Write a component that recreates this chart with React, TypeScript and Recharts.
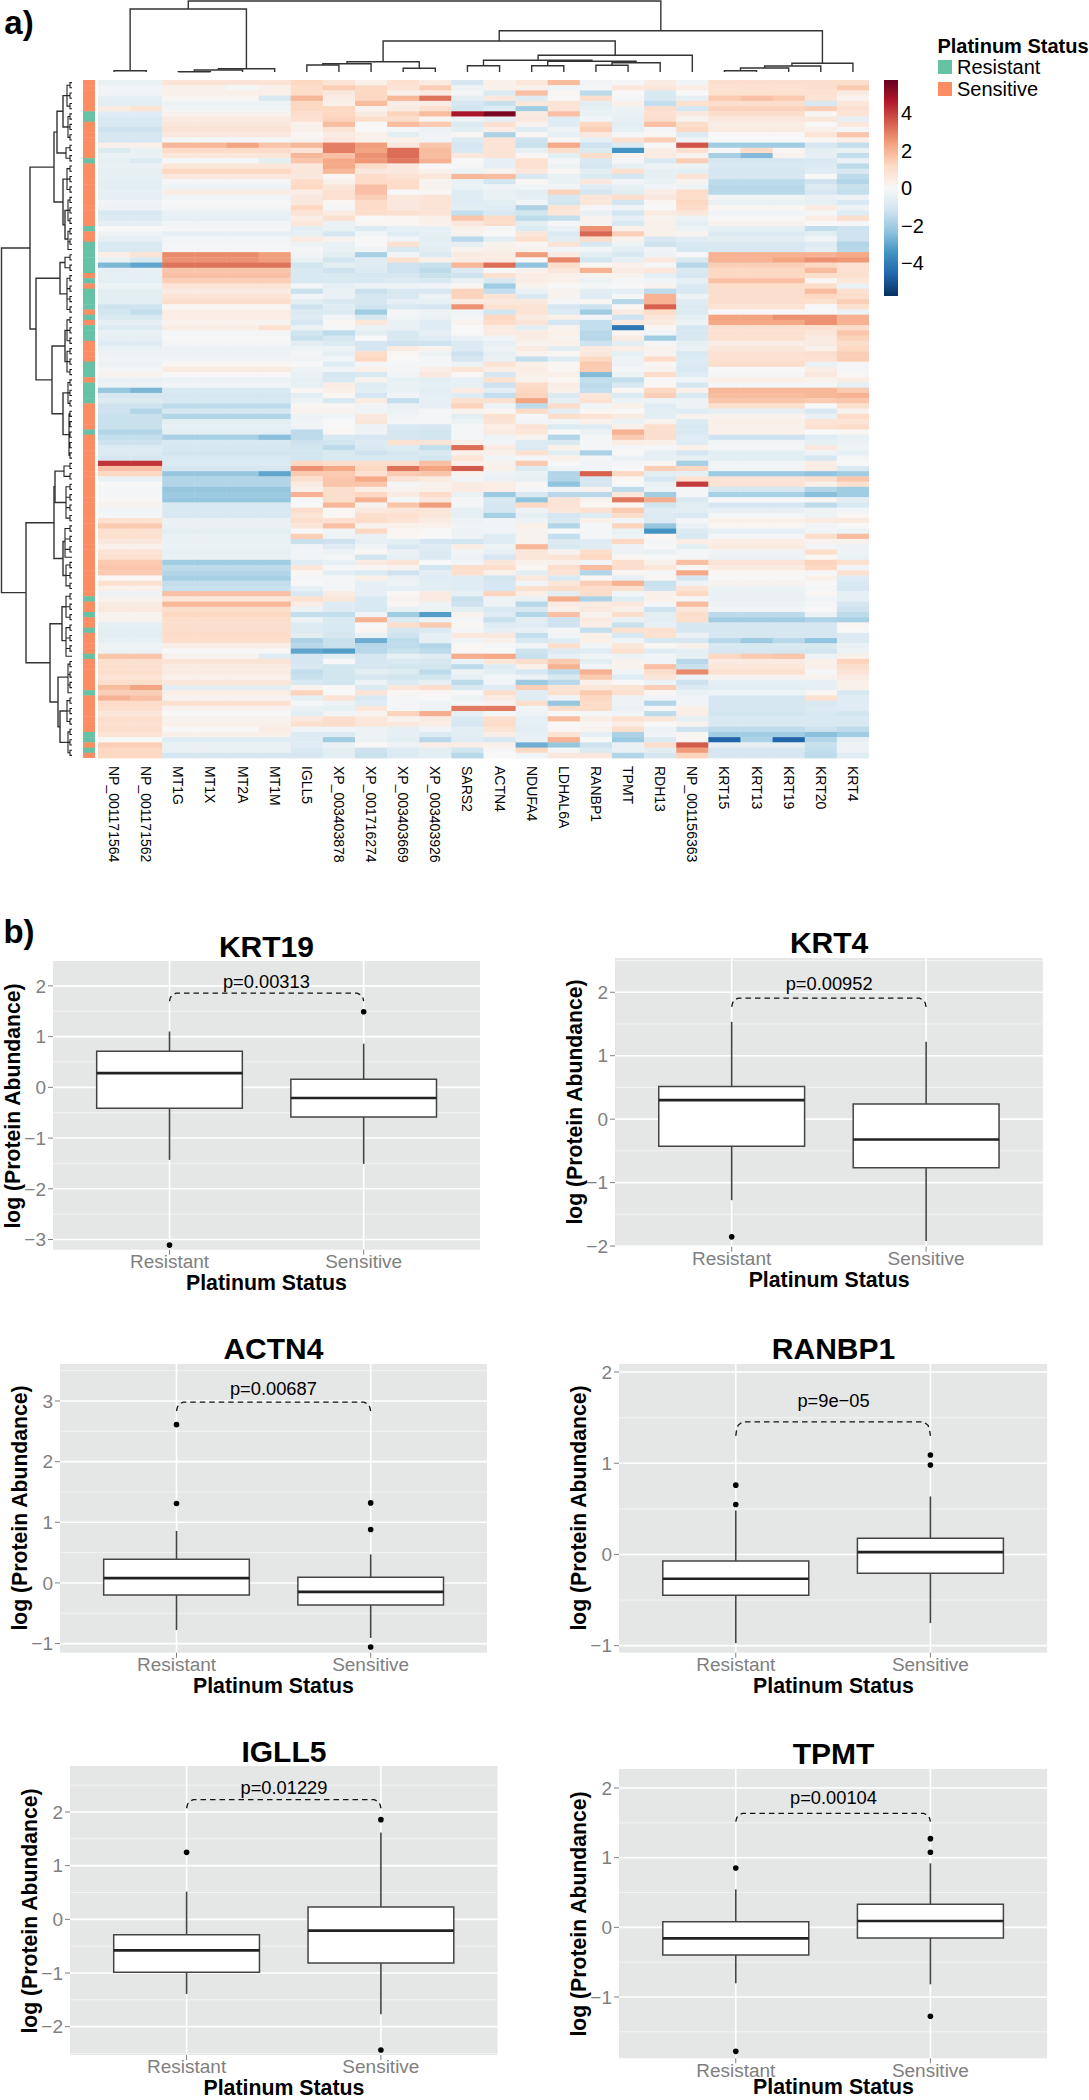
import {
  CartesianGrid,
  ReferenceArea,
  ReferenceLine,
  Scatter,
  ScatterChart,
  XAxis,
  YAxis,
} from "recharts";

const FONT = '"Liberation Sans", Arial, sans-serif';

const geneLabels = [
  "NP_001171564", "NP_001171562", "MT1G", "MT1X", "MT2A", "MT1M", "IGLL5", "XP_003403878",
  "XP_001716274", "XP_003403669", "XP_003403926", "SARS2", "ACTN4", "NDUFA4", "LDHAL6A", "RANBP1",
  "TPMT", "RDH13", "NP_001156363", "KRT15", "KRT13", "KRT19", "KRT20", "KRT4",
];

// rows that carry the green "Resistant" annotation, everything else is Sensitive
const resistantRows = [6, 7, 15, 28, 31, 32, 33, 34, 35, 36, 38, 40, 41, 42, 43, 45, 47, 48, 49, 54, 55, 56, 58, 59, 60, 61, 67, 99, 102, 105, 110, 117, 125, 126, 128];

// heatmap values, read row by row (10 per line, 130 rows)
const npPair = [
  -.4, -.2, -.2, -.5, -.6, .5, -.7, -.9, -.9, -1.2,
  -1, -1, .3, -.8, -.4, -.5, -.4, -.5, -.5, -.6,
  -.6, -.5, -.5, -.2, -.3, -.9, -.8, -.5, 0, -.3,
  -.5, -.9, -.9, .4, -.4, -2.6, -.5, -.5, -.6, -.3,
  -.6, -.6, -.6, -1.2, -1.1, -.9, -.5, -.8, -.4, -.5,
  -.7, -.4, -.3, -.2, -.3, -.1, .2, -.4, -.3, -2.2,
  -1, -.8, -1.2, -1.2, -1.3, -1.3, -1.3, -1.7, -1.4, -1.2,
  -.8, -.8, -1, 4.1, 1.7, 1.2, -.4, 0, -.1, -.1,
  .1, .2, -.2, -.1, .9, 1.5, .9, .9, .6, .3,
  .8, .9, 1.5, 1.6, 1.5, .1, .9, .3, -.3, .2,
  .5, .6, .2, .2, -.5, -.6, -.6, -.5, -.3, -.3,
  1.6, .9, 1, 1, .8, 1, 1.8, 1.4, 1.7, 1.1,
  1, .7, 1, .9, 1, .8, 0, 1.4, 1.2, 1.2,
];
const mtBlock = [
  .8, .3, .3, .1, -.3, -.2, .2, .5, .7, .8,
  .6, -.1, 1.9, 1.1, .7, -.1, .7, 1.2, .6, -.1,
  -.3, .4, -.2, 0, -.1, -.4, -.5, -.2, -.1, -.5,
  -.2, -.1, -.1, 2.7, 2.6, 3.1, 1.6, 1.7, 1.4, .8,
  .5, .8, 1, .1, .4, .4, .2, .4, -.1, 0,
  -.1, -.3, -.3, -.2, .1, .5, 0, -.3, -.2, -.9,
  -1, -1, -1.5, -1, -1.7, -.6, -.5, -.6, -1.9, -.9,
  -1, -1.1, -.9, -.8, -1, -2.2, -1.7, -1.7, -2.2, -2.1,
  -2.2, -.9, -.9, -.9, -.4, -.4, -.6, -.4, -.4, -.4,
  -.5, -.4, -2, -1.5, -1.7, -1.9, -1.4, -1.3, 1.7, .7,
  1.9, 1, 1.2, 1, 1, 1, 1.1, 1, .4, 0,
  .2, .8, .5, .5, .3, .7, -.6, .4, .2, .9,
  .2, 0, .2, .3, 0, .3, -.7, -.4, -.4, -1,
];
const igll5 = [
  1.2, 1.1, 1.1, 1.9, 1.2, 1.2, 1, .9, .3, .3,
  .1, .2, 1.9, .8, 1.9, 1.6, .6, .7, .6, 1.1,
  1.2, .4, .6, .6, 1.2, .8, .4, .7, -.6, -.5,
  .5, -.3, -.1, -.2, -.4, -1.1, -.9, -.9, -.9, -.1,
  -1.3, -.2, -.6, -1.2, -.8, -.7, -1, -.4, -1.1, -1.3,
  -.6, -.3, -.1, -.2, 0, -.3, -.4, -.5, -.5, .1,
  -.6, -.3, .1, .2, -.3, -.2, -.2, -1.5, -1.5, -1.2,
  -1.1, -1.1, -1.1, 1.2, 2.6, 1.5, 1, .5, .3, 2,
  0, 0, 1, .8, 1, .7, 0, 1.4, -1.3, -.2,
  -.2, -.2, -.7, .7, .1, -.1, 0, -.5, -.9, .9,
  .4, -.3, -1.4, -.3, -.8, -.8, -.6, -1.8, -1.6, -3,
  -1, -1, -.9, -1.4, -1.3, -.9, .2, 1.3, -.5, -.1,
  -.4, -.6, .6, .9, -.2, -.8, -.7, -.7, -.9, -1,
];
const xp878 = [
  .8, 1.4, .6, .4, .3, 1.2, 1.2, 1.3, 1.8, .8,
  .5, .6, 2.9, 2.9, 1.7, 2.2, 2.2, 1.9, .1, .3,
  .7, .9, .9, .1, -.1, .5, .9, -.4, -.4, -1,
  .2, -.4, -.4, -.6, -1.1, -.6, -1.2, -.9, -.9, -.5,
  -.4, -.4, -.9, -.7, -.8, -.2, .1, -.1, -1.5, -1,
  -.8, -.3, -.5, -.2, -.7, -.2, -1, -.9, .4, .3,
  .1, -.9, .1, .2, -.2, 0, 0, .1, -.9, -1.1,
  -1.5, -.9, -.9, 1, 2.2, 1.5, 1.6, 1.6, 1, 1,
  1, 1.9, .1, .1, .9, 1.7, -.2, -.3, -1.2, -.7,
  -.3, -.1, -.5, -.1, -.6, -.1, -.1, -.1, .5, .7,
  -.7, -.7, -1.4, -.9, -.9, -.9, -1, -1.3, -1.3, -3.2,
  -.6, 0, -1.1, -1.1, -1.1, -1.1, 0, 0, .8, -.3,
  -.5, -.2, 1, 1, -.2, -.8, -2, -.4, -.6, -.6,
];
const xp274 = [
  .3, 1.2, 1.2, 1.2, 1.8, .2, .5, 1, 0, 0,
  .3, .3, 2.4, 2.3, 2.6, 2.5, 1.1, .6, 1.1, 1.1,
  1.7, 1.7, 1.4, 1.1, 1.1, 1, 0, .1, -.8, -.2,
  0, 0, -.2, -1.9, -.7, -.7, -.8, -1, -.9, -.3,
  -1.3, -1, -1, -1.2, -2, -.9, .7, -.4, -.6, 0,
  -1, -1, 1.1, 1.2, -.1, .3, -.9, .2, -.7, -.6,
  -1, .5, -.2, -.2, .6, .7, -.3, -.3, -1, -.8,
  -.9, -1.2, -.9, 1, 1.2, .9, 2.2, 1.6, .4, 1.2,
  2, .2, .6, 1, 1.1, .2, 1.2, -.4, -.5, -.2,
  .1, -1.1, .5, .1, -.8, .3, -.5, -.5, -.5, -.9,
  -.9, -.9, -.2, 2, 0, .1, -.4, -2.8, -1.6, -1.6,
  -1, -1, -1, -.6, -1, -.3, -.8, .8, -.9, -.7,
  .7, .2, .7, .7, -.3, -.3, -.3, 0, -1.2, -1.3,
];
const xp669 = [
  .9, .8, .3, 1.9, .4, .5, 1.3, 1, 1.8, -.1,
  -.6, .3, .6, 3.2, 3.2, 3, .6, .6, .8, 1.1,
  1.1, 0, .6, .6, .6, .9, .1, .1, -.5, -.7,
  -.2, .9, -.9, -.2, .9, -1.2, -1.2, -1, -.8, -.3,
  -.9, -.9, -.5, -.9, -.1, -.2, -.4, -.4, -.9, -.9,
  -1.2, .5, .1, 0, -.1, -.1, -.2, -.5, -.4, -.4,
  -.2, -1.4, -.4, -.3, -.2, -.1, -.9, -1, -1, .9,
  -.8, -1, -.9, 1, 3.1, 1.5, .8, -.1, .2, .5,
  -.1, 1.6, .7, .9, .8, .3, .1, .1, -.6, -.9,
  -.4, -.5, .8, .2, -1.2, -.4, -.3, -.5, .1, .2,
  .1, -.4, -2, -.8, 1, -1, -1.2, -1.5, -1.5, -1.3,
  -.5, -.9, -1.1, -.8, -1.1, -.8, .6, .1, -.1, -.1,
  -.1, 1.3, .2, .6, -.5, -.5, -.6, -.3, -.8, -.8,
];
const xp926 = [
  .5, 1.4, .5, 3.1, .4, .9, 1.8, .1, 1.5, -.3,
  -.2, -.2, 1.6, 1.8, 1.8, 2, 0, .3, .7, .2,
  .2, .1, .8, .8, .8, .8, .3, .3, -.5, -.5,
  -.6, -.5, -.6, -.8, .3, -1.3, -1.5, -1.3, -.9, -.2,
  -.9, -.3, -.5, -1, -.3, -.4, -.7, -.7, -.5, -.7,
  -1.2, .2, -.3, -.1, -.1, .4, .6, -.6, -.5, -.6,
  -.5, -.5, -.5, -.1, -.1, -.1, -1, -1.1, -1.1, .8,
  -1.4, -.9, -1.1, 1.7, 2.3, 1.6, .5, .2, .3, 1.1,
  .6, 2.4, .7, .7, .5, .3, 0, 0, -1, -.7,
  -.8, -.8, 0, -1.1, -.6, -.7, -.6, -.6, .5, .5,
  -.3, -.3, -3.2, -.3, 1.5, -.8, -.5, -.5, -1.7, -1.5,
  -.7, -1, -1.1, -1.5, -1.1, -.5, 1, .1, 0, -.3,
  -.3, 2.1, .5, .4, -.2, -.8, -1.6, .4, -.6, -.6,
];
const sars2 = [
  -1, -.3, -.1, -.6, -1, -1.1, 4.7, -.3, -.8, -.6,
  .1, -.8, -1, -.9, .6, 0, -.1, -.3, 1.9, -.4,
  -.4, -.7, -.7, -.7, -.6, -1.4, 1.6, .6, .3, .2,
  -1.6, -.5, .2, .5, .4, 1.9, -.8, -1.2, -.4, .1,
  1.3, 1.3, .5, 2.6, -.2, -.1, .2, 0, 0, -.4,
  -.8, -.8, -1.2, -1, -.3, .8, .1, -.5, -.5, .5,
  -.7, .9, 1.3, .2, -.6, -.3, -.1, -.1, -.1, .3,
  3.2, .3, .8, .3, 3.5, .2, -.2, .5, .5, -.4,
  -.1, -.1, -.5, -.5, -.3, -.2, -.3, -.3, -1.1, .4,
  -.2, -.3, -.2, 1, 1, -.7, -.7, -.7, -.5, -1.3,
  -1.2, -.6, .2, -.1, .1, -.1, .6, -.2, .1, .1,
  2.1, -.4, -1.5, -.3, -.5, -1.5, -.9, 0, -.3, -.1,
  3, -.5, -.9, -1, -.6, -.6, -.7, .4, -1.1, -1.6,
];
const actn4 = [
  .3, .3, -.8, .6, -1.3, -.8, 5.4, -.5, .9, .4,
  -1.8, .8, .8, .8, .8, -.5, -.5, .2, 1.8, -1.1,
  -.2, -.4, -.4, -.6, -.7, -.9, 1.1, 1, -.1, 0,
  -.6, .2, .3, .4, .5, 3.2, 0, .9, -.9, -2,
  -1.4, .8, .6, .9, -1.1, 1.2, 1.1, .5, .5, -.2,
  -.5, -.3, -.5, -.4, .8, .4, -1, .9, -1.2, -.6,
  -1.4, .9, -.3, .1, .9, .8, .4, .5, -.3, -.2,
  .5, .3, -.2, .2, .3, -.3, -.4, .4, .4, -2.1,
  -.9, -1, -1, -1.9, -.2, -.2, -.2, -.7, -.7, -.3,
  -.5, -1, .7, 1, .3, -1.1, -1, -1, 1.3, -.3,
  -.3, -.9, -.7, -1.3, -.7, -.5, .6, .3, -.1, 0,
  2.2, .7, -.7, -.6, -.2, -.2, -.7, 1, .5, .2,
  3, -.1, 1, 1.1, .8, .4, -1, .3, -.1, 0,
];
const ndufa4 = [
  .7, .3, 1.7, -.7, .6, -2, .5, .6, .2, -.7,
  .1, -1.2, -1.3, -.5, .1, .9, .9, .6, -.9, .1,
  -.2, -.6, -.5, -.2, -1.8, -1.1, -1.5, -.6, -.8, .7,
  1, .1, .2, 2.4, 0, -2.3, .2, .4, .4, .2,
  -.4, -.9, .6, .8, .8, .5, .8, -.6, .5, .4,
  .2, .5, .2, -1.4, .3, .4, .3, .3, 1.1, 1.2,
  1.3, 2.3, -1.5, 1.1, -.1, -.2, .8, .7, .2, -.8,
  -.8, .9, -.1, 1.5, -.8, -.4, -.5, .1, -.1, -.9,
  -2.3, 1.2, -.3, -.5, -.3, .3, .2, .2, .2, 1.9,
  .7, .7, .3, .1, -.6, .6, -.2, .9, .4, -.4,
  -1.6, -.9, -1.7, -.6, -.7, -.4, -1.4, -.9, -.2, -1.2,
  -1.3, 1, .3, -1, -.3, -2.1, 1.4, -.7, -.7, 1,
  -.2, -.3, -.5, -.5, -.6, -.5, -.4, -2.8, 1.2, -.2,
];
const ldhal6a = [
  1.8, -.2, .1, 0, .8, .8, 1.7, -.7, -.7, -.3,
  -.5, .1, 2.2, 1, -.6, -.1, -.3, .1, -.4, -.4,
  -.2, 1.3, -1, -1.1, .8, .7, -1.4, -.1, -.4, -.8,
  -.6, .8, -.2, .5, 2.8, 1, .7, .3, .3, 0,
  .2, .2, -.1, -1, -.8, .3, -1, .2, .3, .2,
  .3, -.6, .1, -.7, .1, .1, .3, .1, .4, .3,
  -.8, -.5, 1.1, -.6, 1, -.2, -.8, 0, -1.7, -.9,
  .3, -.6, .3, 0, -.3, -1.7, -1.7, -2.3, -.2, -1.6,
  .8, .8, .7, -1, -.9, -1.7, 0, -1.4, -.8, -.9,
  .2, .8, .3, 1, .8, -.9, .7, 1, -.6, 2.1,
  .5, .3, 1.7, -1.2, -1.2, -.1, -.2, -.7, 1, -.8,
  -.5, 1.5, 2, -1.5, -.9, -1.6, .8, .9, -.2, -2.2,
  1, 0, 1.8, 0, .1, .8, 2, -2.2, -.1, .6,
];
const ranbp1 = [
  -.2, -.1, -1.5, 1, -.6, -.5, -.4, -.2, 1.2, 1.4,
  .6, -.5, -1.2, -.8, 1.1, -.9, -1, -.6, -.8, .6,
  -.7, -1, .7, .7, -.1, -.4, .2, .2, 2.6, 3.3,
  1, -.9, -.2, -.6, -1.1, .1, 2, .2, -.3, -.1,
  -.6, -.7, .1, -1.2, -2, -.2, -1.4, -1.4, -1.6, -1.6,
  -1.2, .5, .6, 1.2, 1.5, 1.5, -2.5, -1.4, -1.5, -1.4,
  .7, .9, -.2, .1, .8, .3, -.7, -.4, -.1, -.1,
  -.1, -1.8, -.1, -.2, -.2, 3.4, -1, -1, .2, -1.6,
  .2, .1, .9, -.7, .3, -.1, -.1, -.1, -.7, -.7,
  1, 1.2, -.2, 1.8, -1.7, .1, 1.4, 1.1, 1.1, -1.8,
  .5, .6, .2, .5, .4, -1.4, .3, .3, -.2, -.7,
  -.2, -.6, -.2, 2, 1.5, .3, .7, 1.5, 1.2, 1.1,
  1.1, -.1, .4, .1, .2, -.5, 0, -1.2, -.8, .6,
];
const tpmt = [
  -.1, .6, 0, -.1, .3, -.3, -.4, -.5, -.6, -.5,
  -.1, .9, -.8, -3.4, .2, -.1, -.5, .9, -1, -.2,
  -.5, -.6, 1, -1.1, -.3, -1.1, -.5, -.9, .3, 1.4,
  .2, -.3, -.6, -.9, -.5, .3, .5, .2, -.1, 0,
  -.5, -.1, -1.6, .1, .5, -1.2, .5, -4.1, .1, .5,
  -.6, .4, -.5, -.3, -.3, -.1, -.3, -1.4, -.9, .1,
  -.8, -.3, .3, 0, .5, -.4, .3, 2, 1.5, .4,
  -.1, 0, -.4, -.1, 0, 1.2, .1, 0, -1.5, .7,
  3, .1, 1.5, 1, -.2, 1.3, -.4, -.3, 1.2, -.3,
  -.3, .1, 1, 1, .1, -.5, 2, .9, -.2, -.7,
  .6, .3, 1, -.4, -1.3, .9, -.9, -.2, .7, .9,
  -.3, .2, .2, -.2, -.7, 0, .8, .9, -.3, -.3,
  -.4, -.2, .9, .4, 1, -1.8, -2.1, -.4, -.4, -1.7,
];
const rdh13 = [
  .5, .7, -.9, -.9, -1.4, 1, .9, 1, 1.7, -.1,
  .1, 1.4, 0, .4, .5, -.9, -.3, -.5, -.5, -.4,
  -.2, .4, .6, .1, 0, .5, .2, .3, .3, .3,
  -.9, -1.2, -.2, -.3, .6, -.1, .7, -.5, -.2, .2,
  -1.5, 2, 2, 3.4, 1.1, .7, .5, .1, -.2, -2,
  -.1, .2, .2, 1.1, .1, .2, 1.1, 0, .1, 1.2,
  1.4, -.3, -.7, -.6, -.6, .2, 1, 1, 1, .3,
  -.1, -.5, -.5, .1, 1.4, -.6, -1, -.4, -.3, -2,
  2.1, -1.1, -.7, -.8, -.8, -2.2, -3.4, .1, -.1, 0,
  -.4, 0, .3, .7, -.1, .1, -1.3, -1.2, .3, .3,
  -.1, -1.2, -.6, -.6, -.5, .9, .9, -.9, .1, -.7,
  -.2, -.2, 1.7, 1, .7, -.3, 1.4, .1, -.2, -1.7,
  -.1, -1.5, .7, 0, -.3, -.2, -.8, 1, -.6, -1,
];
const np363 = [
  -.2, .4, 0, -.5, .9, -1, .6, .2, 1, 1.2,
  -.8, -.2, 3.6, .9, .2, 1.4, -.3, -.6, .8, .2,
  -.3, 1.1, 1, 1.2, 1.1, .7, -.3, -.5, -.3, .2,
  -.7, -.9, -1, 0, -.9, -1.6, -.9, -1, -.5, -.8,
  -.9, -.3, -.7, -.8, -.8, -.5, -.3, -1, -1, -.9,
  -.5, -.4, -.9, -.8, -.8, -.9, -.7, -.2, -1, .3,
  -.9, -.3, -.3, -.7, .2, -.8, -.9, -.9, -.7, -.7,
  .3, -1, -.5, -1.9, 1.2, -.5, .9, 4, -.1, -.1,
  -.9, -.6, -.6, -.9, -.1, -.4, -.8, -.9, .4, -.6,
  -.1, -.1, 1.7, .1, 2.2, -1, -.3, .8, 1.2, -.1,
  1.8, .7, 1, 1, -1, -1, -.4, -1, .3, -.5,
  -.5, -1.6, -1.3, 2.7, -.3, -1.2, -.8, -.4, -.2, -.2,
  .3, .4, -.5, .2, -1.2, .1, .1, 3.5, 2.4, 1.3,
];
const krtBlock = [
  1, .9, .9, 1.5, 1, 1.3, 1, .6, .4, .5,
  0, 0, -2, .1, -2, -1, -.9, -1, -1, -1.5,
  -1.6, -1.6, -.2, -.4, .1, -.2, 0, .2, -.5, -.8,
  -.6, -.9, -.9, 2, 2, 1.4, 1.2, 1.2, 1.7, 1,
  1, 1, 1, .8, 0, 2.3, 2.2, .9, .9, .9,
  .4, .7, .9, .9, 1, 0, -.1, .3, -.1, 1.9,
  1.8, 1.6, .9, -.5, .2, .3, .3, .3, -1.2, -.2,
  -.1, -.6, -.6, -.2, -.2, -2.1, .8, .8, -1, -1.9,
  0, -1, -.5, -.1, .3, .1, -.5, -.1, .4, .5,
  -.2, -.3, .8, .5, .1, 0, .2, -.3, -.4, -.4,
  -.3, -.2, -1.5, -2, -1, -1, -1, -1.6, -.9, -1,
  1.2, .5, .7, .9, .2, -.5, -.6, -.3, -1, -1,
  -1, -1.1, -.9, -.9, -1.5, -2, -1.5, -.5, -1, -1,
];
const krt20 = [
  1, 1, .9, .8, -.9, 1.4, .1, .7, 0, .3,
  .8, .1, -1, -.6, -.5, -.9, -.8, -.7, 0, -1.2,
  -.8, -1, -.4, -.5, .5, -.1, .4, 0, -1.4, -.6,
  -.2, -.7, -.6, 2, 2.6, 1.2, 1.8, 1, .1, 1,
  1.8, 1.2, .9, 0, 0, 2.6, 2.6, .9, .7, .5,
  .5, .3, 1, .9, -.4, .4, .6, .2, -.1, 1.9,
  1.9, 1.5, 0, -.9, -.4, .8, .9, 0, -.7, -.5,
  .6, -.3, -1, .4, .4, -2.3, 1, .3, -1.7, -2.4,
  .1, -1.5, -.3, -.3, .5, -.2, -.2, 1, .2, -.2,
  1, .1, 1.3, 1.2, -.1, .3, 0, -.1, .1, -.2,
  -.1, 0, -.3, -1.8, -1, -1, -1, -2.3, -.9, -1.1,
  -.3, .3, .3, -.1, .2, -.5, -.5, .1, .9, -.9,
  -.8, -.9, -.9, -.9, -1.2, -2.4, -1.7, -1.3, -1.4, -1.5,
];
const krt4 = [
  1, 1.5, .5, .2, .7, .9, .8, -.5, .6, -.1,
  1.6, .3, -1.4, -.4, -1.4, -.4, -1.5, -.9, -1.5, -1.7,
  -1.3, -1.4, -.3, -.9, -.3, -.7, 1, -.1, -1.2, -1.2,
  -1.2, -1.7, -1.6, 2.2, 2.5, .9, .9, .9, .7, -.4,
  .9, 1, 1.4, .9, -.3, 2, 2, 1.1, 1.6, 1.3,
  1, 1.2, 1.4, 1.4, -.1, -.1, .1, .4, -.5, 1.5,
  2, 1.6, .9, .2, 1.1, .8, 1.1, .1, -.4, -.4,
  -.3, -.5, -.1, 0, -.9, -2, 1.6, .9, -2, -2,
  -.6, -.9, -.2, .1, .5, 0, -.3, 1.8, .2, -.3,
  -.3, -.4, .9, -.2, .9, -.7, -.9, -1, -.5, -.5,
  -1, -1.2, -1.5, -1.9, .1, 0, -.8, -.8, -.4, -.3,
  .3, 1.3, 1, .8, .5, .3, .3, -.9, -.7, -.7,
  -.7, -1.1, -.9, -.9, -1.5, -2, -.5, -.3, -.3, -.7,
];

const heatColumns = [
  npPair, npPair, mtBlock, mtBlock, mtBlock, mtBlock, igll5, xp878, xp274, xp669, xp926, sars2,
  actn4, ndufa4, ldhal6a, ranbp1, tpmt, rdh13, np363, krtBlock, krtBlock, krtBlock, krt20, krt4,
];

// single cells that stray from the block they sit in: [row, column, value]
const cellTweaks = [
  [5, 1, .8], [13, 1, -.4], [15, 1, -.8], [33, 1, .8], [34, 1, -.9], [35, 1, -3], [44, 1, -1.4],
  [59, 1, -2.6], [63, 1, -1.7], [116, 1, 2.3], [118, 0, 2],
  [3, 5, -.9], [12, 5, 1.6], [12, 4, 2.3], [33, 5, 2.4], [34, 5, 2.4], [68, 5, -2.4], [75, 5, -3],
  [1, 4, -.1], [15, 5, -.6], [47, 5, .9], [110, 5, -.7], [124, 5, .4],
  [126, 19, -4.6], [126, 20, -1.8], [126, 21, -4.6], [13, 19, 0], [13, 20, 1.1], [13, 21, .1],
  [14, 19, -1.9], [14, 20, -2.5], [14, 21, .2], [107, 20, -2.1], [3, 20, 1.7], [110, 20, 1.5],
  [110, 21, 1.6], [45, 21, 2.6], [34, 21, 2.3],
];

// RdBu ramp used by the heatmap and by its colour bar
const rampValues = [-5.7, -4.56, -3.42, -2.28, -1.14, 0, 1.14, 2.28, 3.42, 4.56, 5.7];
const rampColors = ["#053061", "#2166ac", "#4393c3", "#92c5de", "#d1e5f0", "#f7f7f7", "#fddbc7", "#f4a582", "#d6604d", "#b2182b", "#67001f"];
const colorBarTicks = [-4, -2, 0, 2, 4];

// top dendrogram: [columnA, columnB, height, heightA, heightB], heights in the strip's own units
const topMerges = [
  [0, 1, 70.7, 72, 72], [2, 3, 71.7, 72, 72], [2.5, 4, 70, 71.7, 72], [3.25, 5, 68.7, 70, 72],
  [.5, 4.12, 9, 70.7, 68.7], [6, 7, 65, 72, 72], [6.5, 8, 63.7, 65, 72], [9, 10, 68.3, 72, 72],
  [7.25, 9.5, 61.7, 63.7, 68.3], [11, 12, 65.7, 72, 72], [13, 14, 65.7, 72, 72], [15, 16, 65.3, 72, 72],
  [15.5, 17, 62.7, 65.3, 72], [13.5, 16.25, 61.3, 65.7, 62.7], [11.5, 14.875, 60.3, 65.7, 61.3],
  [13.2, 18, 55.3, 60.3, 72], [8.375, 15.6, 41, 61.7, 55.3], [19, 20, 70.7, 72, 72],
  [19.5, 21, 68, 70.7, 72], [20.25, 22, 66, 68, 72], [21.1, 23, 63.3, 66, 72],
  [11.99, 22.05, 30.7, 41, 63.3], [2.31, 17.02, 1, 9, 30.7],
];

// left dendrogram upper levels: [rowA, rowB, height, heightA, heightB]
const leftMerges = [
  [3, 9, 63, 67, 68], [6, 14, 57, 63, 66], [25, 30.5, 65, 68, 68], [19, 27.75, 63, 67, 65],
  [10, 23.4, 54, 57, 63], [35, 41, 60, 65, 67], [48, 54, 65, 67, 67], [60, 68, 63, 68, 69],
  [51, 64, 52, 65, 63], [38, 57.5, 36, 60, 52], [16.7, 47.75, 30, 54, 36], [75, 81, 55, 64, 66],
  [88.5, 95, 63, 65, 66], [78, 91.75, 54, 55, 63], [101, 107.5, 62, 66, 66], [121, 127, 60, 67, 68],
  [114.5, 124, 58, 68, 60], [104.25, 119.25, 50, 62, 58], [84.9, 111.75, 26, 54, 50],
  [32.2, 98.3, 1.5, 30, 26],
];
// left dendrogram leaf groups: [firstRow, lastRow, height]
const leafGroups = [
  [0, 5, 67], [6, 11, 68], [12, 15, 66], [16, 21, 67], [22, 27, 68], [28, 32, 68], [33, 36, 65],
  [37, 44, 67], [45, 50, 67], [51, 56, 67], [57, 62, 68], [63, 72, 69], [73, 76, 64], [77, 84, 66],
  [85, 91, 65], [92, 97, 66], [98, 103, 66], [104, 110, 66], [111, 117, 68], [118, 123, 67], [124, 129, 68],
];

// box plot statistics, one pair per panel
const krt19Stats = [
  { x: 1, low: -1.43, q1: -.41, median: .28, q3: .71, high: 1.1 },
  { x: 2, low: -1.51, q1: -.585, median: -.21, q3: .16, high: .86 },
];
const krt19Outliers = [{ x: 1, y: -3.11 }, { x: 2, y: 1.49 }];
const krt4Stats = [
  { x: 1, low: -1.277, q1: -.426, median: .3, q3: .515, high: 1.535 },
  { x: 2, low: -1.92, q1: -.767, median: -.32, q3: .237, high: 1.22 },
];
const krt4Outliers = [{ x: 1, y: -1.855 }];
const actn4Stats = [
  { x: 1, low: -.775, q1: -.2, median: .08, q3: .39, high: .857 },
  { x: 2, low: -.907, q1: -.363, median: -.148, q3: .093, high: .47 },
];
const actn4Outliers = [{ x: 1, y: 2.61 }, { x: 1, y: 1.31 }, { x: 2, y: 1.32 }, { x: 2, y: .88 }, { x: 2, y: -1.055 }];
const ranbp1Stats = [
  { x: 1, low: -.972, q1: -.446, median: -.267, q3: -.073, high: .482 },
  { x: 2, low: -.753, q1: -.205, median: .026, q3: .179, high: .636 },
];
const ranbp1Outliers = [{ x: 1, y: .76 }, { x: 1, y: .548 }, { x: 2, y: 1.09 }, { x: 2, y: .98 }];
const igll5Stats = [
  { x: 1, low: -1.39, q1: -.988, median: -.578, q3: -.286, high: .516 },
  { x: 2, low: -1.77, q1: -.814, median: -.211, q3: .23, high: 1.62 },
];
const igll5Outliers = [{ x: 1, y: 1.248 }, { x: 2, y: 1.857 }, { x: 2, y: -2.435 }];
const tpmtStats = [
  { x: 1, low: -.804, q1: -.397, median: -.158, q3: .081, high: .545 },
  { x: 2, low: -.818, q1: -.153, median: .091, q3: .33, high: .919 },
];
const tpmtOutliers = [{ x: 1, y: .852 }, { x: 1, y: -1.78 }, { x: 2, y: 1.273 }, { x: 2, y: 1.077 }, { x: 2, y: -1.277 }];

const statusLabels = ["Resistant", "Sensitive"];

const HEAT = { left: 97.7, top: 80, width: 771, height: 678 };

const heatColor = (v: number) => {
  const c = Math.max(rampValues[0], Math.min(rampValues[10], v));
  let i = 0;
  while (i < 9 && c > rampValues[i + 1]) i++;
  const t = (c - rampValues[i]) / (rampValues[i + 1] - rampValues[i]);
  const a = rampColors[i];
  const b = rampColors[i + 1];
  const mix = (s: number) => {
    const p = parseInt(a.slice(s, s + 2), 16);
    const q = parseInt(b.slice(s, s + 2), 16);
    return Math.round(p + (q - p) * t);
  };
  return `rgb(${mix(1)},${mix(3)},${mix(5)})`;
};

const heatCells = heatColumns.flatMap((values, col) =>
  values.map((v, row) => {
    const tweak = cellTweaks.find((t) => t[0] === row && t[1] === col);
    return { x: col + 0.5, y: row + 0.5, fill: heatColor(tweak ? tweak[2] : v) };
  })
);
const annotationCells = npPair.map((_, row) => ({
  x: 0.5,
  y: row + 0.5,
  fill: resistantRows.includes(row) ? "#66C2A5" : "#FC8D62",
}));
const colorBarLevels = rampValues.map((v) => ({ x: 0.5, y: v }));

const nothing = () => <g />;

const cellShape = (w: number, h: number) => (props: any) => (
  <rect
    x={props.cx - w / 2}
    y={props.cy - h / 2}
    width={w + 0.4}
    height={h + 0.4}
    fill={props.payload.fill}
  />
);

const box = (left: number, top: number) => ({ position: "absolute" as const, left, top });

const Caption = ({ x, y, size, bold, rotate, color, children }: any) => (
  <div
    style={{
      position: "absolute",
      left: x,
      top: y,
      transform: `translate(-50%, -50%)${rotate ? ` rotate(${rotate}deg)` : ""}`,
      fontFamily: FONT,
      fontSize: size,
      fontWeight: bold ? 700 : 400,
      color: color ?? "#000",
      whiteSpace: "nowrap",
      lineHeight: 1,
    }}
  >
    {children}
  </div>
);

const GeneTick = ({ x, y, payload }: any) => (
  <text
    x={x}
    y={y}
    transform={`rotate(90 ${x} ${y})`}
    fontFamily={FONT}
    fontSize={14}
    fill="#000"
    textAnchor="start"
    dominantBaseline="central"
  >
    {geneLabels[Math.floor(payload.value)]}
  </text>
);

const mergeLine = { stroke: "#333", strokeWidth: 1.4 };

const TopDendrogram = () => (
  <div style={box(HEAT.left, 0)}>
    <ScatterChart width={HEAT.width} height={74} margin={{ top: 0, right: 0, bottom: 0, left: 0 }}>
      <XAxis type="number" dataKey="x" domain={[-0.5, 23.5]} hide />
      <YAxis type="number" dataKey="y" domain={[0, 74]} reversed hide />
      {topMerges.map(([a, b, h, ha, hb], i) => (
        <Scatter
          key={i}
          data={[{ x: a, y: ha }, { x: a, y: h }, { x: b, y: h }, { x: b, y: hb }]}
          line={mergeLine}
          shape={nothing}
          isAnimationActive={false}
        />
      ))}
    </ScatterChart>
  </div>
);

const leafPath = ([first, last, spine]: number[]) => {
  const pts: { x: number; y: number }[] = [];
  for (let r = first; r <= last; r += 2) {
    const top = r + 0.5;
    const bottom = Math.min(r + 1, last) + 0.5;
    const mid = (top + bottom) / 2;
    pts.push(
      { x: spine, y: mid }, { x: 70, y: mid }, { x: 70, y: top }, { x: 72, y: top }, { x: 70, y: top },
      { x: 70, y: bottom }, { x: 72, y: bottom }, { x: 70, y: bottom }, { x: 70, y: mid }, { x: spine, y: mid }
    );
  }
  return pts;
};

const LeftDendrogram = () => (
  <div style={box(0, HEAT.top)}>
    <ScatterChart width={74} height={HEAT.height} margin={{ top: 0, right: 0, bottom: 0, left: 0 }}>
      <XAxis type="number" dataKey="x" domain={[0, 74]} hide />
      <YAxis type="number" dataKey="y" domain={[0, 130]} reversed hide />
      {leftMerges.map(([a, b, h, ha, hb], i) => (
        <Scatter
          key={i}
          data={[{ x: ha, y: a }, { x: h, y: a }, { x: h, y: b }, { x: hb, y: b }]}
          line={mergeLine}
          shape={nothing}
          isAnimationActive={false}
        />
      ))}
      {leafGroups.map((g, i) => (
        <Scatter key={i} data={leafPath(g)} line={{ stroke: "#222", strokeWidth: 1.1 }} shape={nothing} isAnimationActive={false} />
      ))}
    </ScatterChart>
  </div>
);

const Heatmap = () => (
  <>
    <div style={box(83, HEAT.top)}>
      <ScatterChart width={12} height={HEAT.height} margin={{ top: 0, right: 0, bottom: 0, left: 0 }}>
        <XAxis type="number" dataKey="x" domain={[0, 1]} hide />
        <YAxis type="number" dataKey="y" domain={[0, 130]} reversed hide />
        <Scatter data={annotationCells} shape={cellShape(12, HEAT.height / 130)} isAnimationActive={false} />
      </ScatterChart>
    </div>
    <div style={box(HEAT.left, HEAT.top)}>
      <ScatterChart width={HEAT.width} height={HEAT.height + 110} margin={{ top: 0, right: 0, bottom: 0, left: 0 }}>
        <XAxis
          type="number"
          dataKey="x"
          domain={[0, 24]}
          ticks={geneLabels.map((_, i) => i + 0.5)}
          interval={0}
          height={110}
          axisLine={false}
          tickLine={false}
          tick={<GeneTick />}
        />
        <YAxis type="number" dataKey="y" domain={[0, 130]} reversed hide />
        <Scatter data={heatCells} shape={cellShape(HEAT.width / 24, HEAT.height / 130)} isAnimationActive={false} />
      </ScatterChart>
    </div>
  </>
);

const ColorBar = () => (
  <div style={box(884, 70)}>
    <ScatterChart width={50} height={236} margin={{ top: 10, right: 0, bottom: 10, left: 0 }}>
      <defs>
        <linearGradient id="rampFill" x1="0" y1="1" x2="0" y2="0">
          {rampColors.map((c, i) => (
            <stop key={c} offset={`${i * 10}%`} stopColor={c} />
          ))}
        </linearGradient>
      </defs>
      <XAxis type="number" dataKey="x" domain={[0, 1]} hide />
      <YAxis
        type="number"
        dataKey="y"
        orientation="right"
        width={36}
        domain={[-5.75, 5.75]}
        ticks={colorBarTicks}
        interval={0}
        axisLine={false}
        tickLine={false}
        tickSize={3}
        tickMargin={0}
        tickFormatter={(v: number) => String(v).replace("-", "\u2212")}
        tick={{ fontFamily: FONT, fontSize: 20, fill: "#000", textAnchor: "start" }}
      />
      <ReferenceArea x1={0} x2={1} y1={-5.75} y2={5.75} fill="url(#rampFill)" fillOpacity={1} stroke="none" />
      <Scatter data={colorBarLevels} shape={nothing} isAnimationActive={false} />
    </ScatterChart>
  </div>
);

const TOP_PAD = 12;

const BoxPanel = ({ title, pLabel, left, top, width, height, titleY, pY, xLabelGap, domain, ticks, minor, stats, outliers, bracket }: any) => {
  const [bracketEnd, bracketTop] = bracket;
  const rise = bracketTop - bracketEnd;
  const bracketPath = [
    { x: 1, y: bracketEnd }, { x: 1.004, y: bracketEnd + rise * 0.4 }, { x: 1.012, y: bracketEnd + rise * 0.75 },
    { x: 1.034, y: bracketTop }, { x: 1.966, y: bracketTop }, { x: 1.988, y: bracketEnd + rise * 0.75 },
    { x: 1.996, y: bracketEnd + rise * 0.4 }, { x: 2, y: bracketEnd },
  ];
  const cx = left + width / 2;
  return (
    <>
      <Caption x={cx} y={titleY} size={30} bold>{title}</Caption>
      <div style={box(left - 60, top - TOP_PAD)}>
        <ScatterChart width={width + 60} height={height + 40 + TOP_PAD} margin={{ top: TOP_PAD, right: 0, bottom: 0, left: 0 }}>
          <CartesianGrid fill="#E5E6E6" fillOpacity={1} stroke="#F2F3F3" strokeWidth={1} vertical={false} horizontalValues={minor} />
          <CartesianGrid stroke="#fff" strokeWidth={1.6} horizontalValues={ticks} verticalValues={[1, 2]} />
          <XAxis
            type="number"
            dataKey="x"
            domain={[0.4, 2.6]}
            ticks={[1, 2]}
            interval={0}
            height={40}
            axisLine={false}
            tickSize={5}
            tickMargin={0}
            tickLine={{ stroke: "#7f7f7f" }}
            tickFormatter={(v: number) => statusLabels[v - 1]}
            tick={{ fontFamily: FONT, fontSize: 19, fill: "#7F7F7F" }}
          />
          <YAxis
            type="number"
            dataKey="y"
            width={60}
            domain={domain}
            ticks={ticks}
            interval={0}
            axisLine={false}
            tickSize={5}
            tickMargin={2}
            tickLine={{ stroke: "#7f7f7f" }}
            tickFormatter={(v: number) => String(v).replace("-", "\u2212")}
            tick={{ fontFamily: FONT, fontSize: 19, fill: "#7F7F7F" }}
          />
          {stats.map((s: any) => (
            <ReferenceArea
              key={s.x}
              x1={s.x - 0.375}
              x2={s.x + 0.375}
              y1={s.q1}
              y2={s.q3}
              fill="#fff"
              fillOpacity={1}
              stroke="#444"
              strokeWidth={1.5}
            />
          ))}
          {stats.map((s: any) => (
            <ReferenceLine
              key={s.x}
              segment={[{ x: s.x - 0.375, y: s.median }, { x: s.x + 0.375, y: s.median }]}
              stroke="#222"
              strokeWidth={2.6}
            />
          ))}
          {stats.map((s: any) => (
            <Scatter key={`u${s.x}`} data={[{ x: s.x, y: s.q3 }, { x: s.x, y: s.high }]} line={{ stroke: "#444", strokeWidth: 1.6 }} shape={nothing} isAnimationActive={false} />
          ))}
          {stats.map((s: any) => (
            <Scatter key={`l${s.x}`} data={[{ x: s.x, y: s.q1 }, { x: s.x, y: s.low }]} line={{ stroke: "#444", strokeWidth: 1.6 }} shape={nothing} isAnimationActive={false} />
          ))}
          <Scatter
            data={outliers}
            shape={(p: any) => <circle cx={p.cx} cy={p.cy} r={2.8} fill="#000" />}
            isAnimationActive={false}
          />
          <Scatter
            data={bracketPath}
            line={{ stroke: "#111", strokeWidth: 1.3, strokeDasharray: "5.5 4" }}
            shape={nothing}
            isAnimationActive={false}
          />
        </ScatterChart>
      </div>
      <Caption x={cx} y={pY} size={18.3}>{pLabel}</Caption>
      <Caption x={left - 40} y={top + height / 2} size={21.2} bold rotate={-90}>log (Protein Abundance)</Caption>
      <Caption x={cx} y={top + height + (xLabelGap ?? 34)} size={21.3} bold>Platinum Status</Caption>
    </>
  );
};

export default function App() {
  return (
    <div style={{ position: "absolute", left: 0, top: 0, width: 1089, height: 2100, background: "#fff", overflow: "hidden" }}>
      <Caption x={19} y={22} size={33} bold>a)</Caption>
      <Caption x={19} y={931} size={33} bold>b)</Caption>

      <TopDendrogram />
      <LeftDendrogram />
      <Heatmap />
      <ColorBar />

      <Caption x={1013} y={45.7} size={20} bold>Platinum Status</Caption>
      <div style={{ ...box(938, 60), width: 14, height: 14, background: "#66C2A5" }} />
      <div style={{ ...box(938, 82), width: 14, height: 14, background: "#FC8D62" }} />
      <div style={{ ...box(957, 57), fontFamily: FONT, fontSize: 20, lineHeight: "20px" }}>Resistant</div>
      <div style={{ ...box(957, 79), fontFamily: FONT, fontSize: 20, lineHeight: "20px" }}>Sensitive</div>

      <BoxPanel title="KRT19" pLabel="p=0.00313" left={52.8} top={961.3} width={427.2} height={288.7} titleY={946.7} pY={982}
        domain={[-3.2, 2.49]} ticks={[-3, -2, -1, 0, 1, 2]} minor={[-2.5, -1.5, -.5, .5, 1.5]} stats={krt19Stats} outliers={krt19Outliers} bracket={[1.7, 1.855]} />
      <BoxPanel title="KRT4" pLabel="p=0.00952" left={615.2} top={958} width={427.8} height={288.7} titleY={943} pY={984}
        domain={[-2.01, 2.54]} ticks={[-2, -1, 0, 1, 2]} minor={[-1.5, -.5, .5, 1.5, 2.5]} stats={krt4Stats} outliers={krt4Outliers} bracket={[1.77, 1.908]} />
      <BoxPanel title="ACTN4" pLabel="p=0.00687" left={59.8} top={1364} width={427.2} height={288.7} titleY={1349} pY={1388.7}
        domain={[-1.15, 3.61]} ticks={[-1, 0, 1, 2, 3]} minor={[-.5, .5, 1.5, 2.5, 3.5]} stats={actn4Stats} outliers={actn4Outliers} bracket={[2.835, 2.98]} />
      <BoxPanel title="RANBP1" pLabel={"p=9e\u221205"} left={619.4} top={1364} width={428.2} height={288.7} titleY={1349} pY={1401}
        domain={[-1.077, 2.088]} ticks={[-1, 0, 1, 2]} minor={[-.5, .5, 1.5]} stats={ranbp1Stats} outliers={ranbp1Outliers} bracket={[1.3, 1.454]} />
      <BoxPanel title="IGLL5" pLabel="p=0.01229" left={70.2} top={1766} width={427.5} height={289} titleY={1751.7} pY={1788}
        domain={[-2.528, 2.857]} ticks={[-2, -1, 0, 1, 2]} minor={[-2.5, -1.5, -.5, .5, 1.5, 2.5]} stats={igll5Stats} outliers={igll5Outliers} bracket={[2.07, 2.23]} />
      <BoxPanel title="TPMT" pLabel="p=0.00104" left={619.4} top={1769} width={428.2} height={289.3} titleY={1754} pY={1797.7} xLabelGap={30}
        domain={[-1.88, 2.273]} ticks={[-1, 0, 1, 2]} minor={[-1.5, -.5, .5, 1.5]} stats={tpmtStats} outliers={tpmtOutliers} bracket={[1.517, 1.636]} />
    </div>
  );
}
